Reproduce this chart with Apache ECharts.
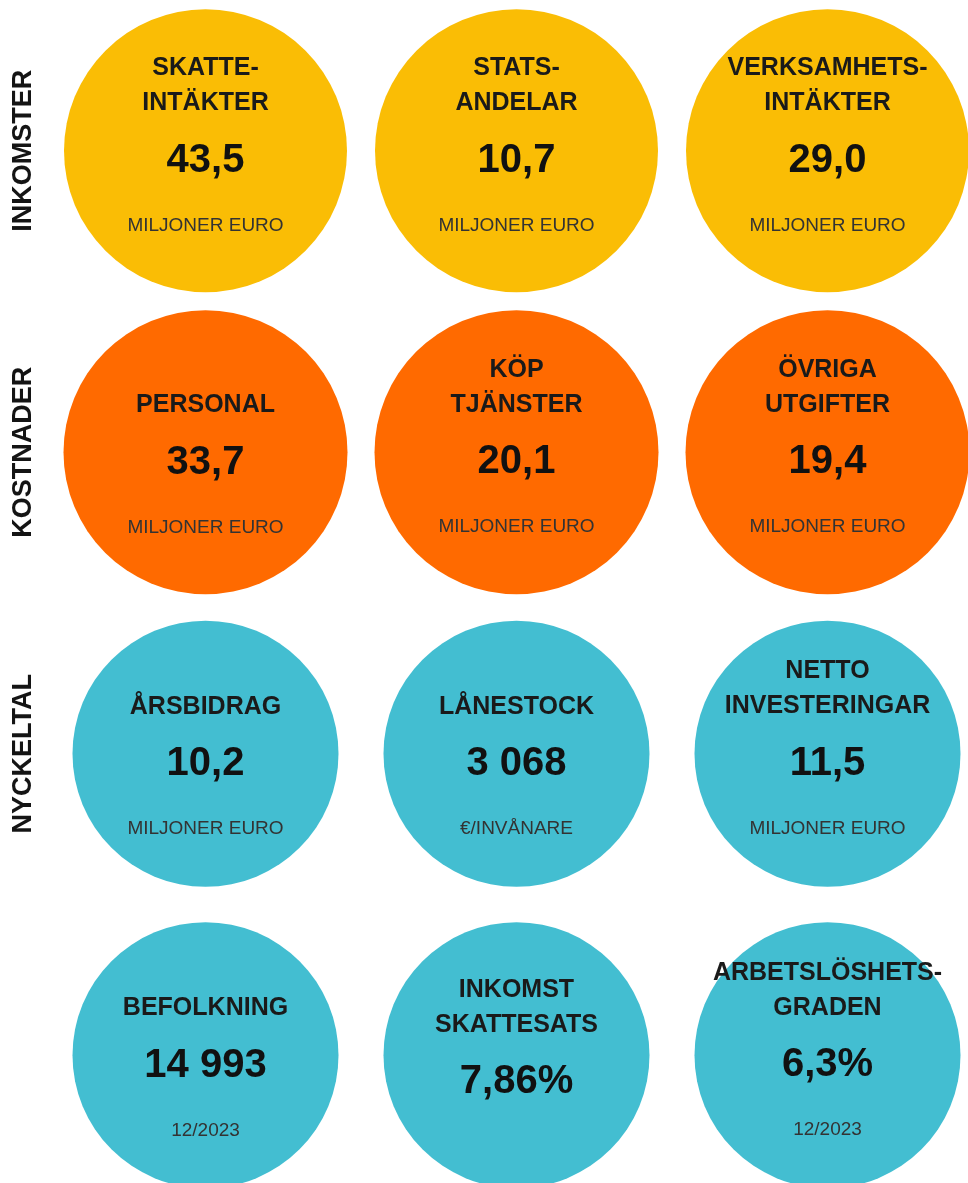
<!DOCTYPE html>
<html>
<head>
<meta charset="utf-8">
<script src="https://cdn.jsdelivr.net/npm/echarts@6/dist/echarts.min.js"></script>
<style>
	html, body { margin: 0; padding: 0; background: #fff; }
	#main { width: 968px; height: 1183px; }
</style>
</head>
<body>
<div id="main"></div>
<script>
// nyckeltal, fyra rader med tre cirklar
var rowLabels = ['INKOMSTER', 'KOSTNADER', 'NYCKELTAL', ''];
var colKeys = ['c1', 'c2', 'c3'];
var groups = ['INKOMSTER', 'KOSTNADER', 'NYCKELTAL'];
var titles = [
	'SKATTE-\nINTÄKTER', 'STATS-\nANDELAR', 'VERKSAMHETS-\nINTÄKTER',
	'PERSONAL', 'KÖP\nTJÄNSTER', 'ÖVRIGA\nUTGIFTER',
	'ÅRSBIDRAG', 'LÅNESTOCK', 'NETTO\nINVESTERINGAR',
	'BEFOLKNING', 'INKOMST\nSKATTESATS', 'ARBETSLÖSHETS-\nGRADEN'
];
var values = [43.5, 10.7, 29.0, 33.7, 20.1, 19.4, 10.2, 3068, 11.5, 14993, 7.86, 6.3];
var decimals = [1, 1, 1, 1, 1, 1, 1, 0, 1, 0, 2, 1];
var suffixes = ['', '', '', '', '', '', '', '', '', '', '%', '%'];
var units = [
	'MILJONER EURO', 'MILJONER EURO', 'MILJONER EURO',
	'MILJONER EURO', 'MILJONER EURO', 'MILJONER EURO',
	'MILJONER EURO', '€/INVÅNARE', 'MILJONER EURO',
	'12/2023', '', '12/2023'
];
var groupOf = [0, 0, 0, 1, 1, 1, 2, 2, 2, 2, 2, 2];

var colors = ['#FABD05', '#FF6A00', '#43BED1'];
var sizes = [283, 284, 266];

function fmt(v, d, s) {
	var parts = v.toFixed(d).split('.');
	parts[0] = parts[0].replace(/\B(?=(\d{3})+(?!\d))/g, ' ');
	return parts.join(',') + s;
}

function labelText(i) {
	var lines = titles[i].split('\n').map(function (t) { return '{t|' + t + '}'; });
	lines.push('{v|' + fmt(values[i], decimals[i], suffixes[i]) + '}');
	if (units[i] != '') {
		lines.push('{u|' + units[i] + '}');
	}
	return lines.join('\n');
}

var series = groups.map(function (g, gi) {
	var data = [];
	titles.forEach(function (t, i) {
		if (groupOf[i] != gi) return;
		var item = { value: [i % 3, Math.floor(i / 3)], idx: i };
		var shift = 0;
		if (t.indexOf('\n') < 0) shift = 18;
		if (units[i] == '') shift = -8;
		item.label = { offset: [0, shift] };
		data.push(item);
	});
	return {
		name: g,
		type: 'scatter',
		symbol: 'circle',
		symbolSize: sizes[gi],
		itemStyle: { color: colors[gi], opacity: 1 },
		emphasis: { disabled: true },
		label: {
			show: true,
			position: 'inside',
			align: 'center',
			formatter: function (p) { return labelText(p.data.idx); },
			rich: {
				t: { fontFamily: 'Liberation Sans', fontSize: 25, fontWeight: 'bold', color: '#1a1a1a', lineHeight: 35, align: 'center' },
				v: { fontFamily: 'Liberation Sans', fontSize: 40, fontWeight: 'bold', color: '#111111', lineHeight: 80, align: 'center' },
				u: { fontFamily: 'Liberation Sans', fontSize: 19, color: '#333333', lineHeight: 50, align: 'center' }
			}
		},
		data: data
	};
});

var chart = echarts.init(document.getElementById('main'), null, { renderer: 'canvas' });
var option = {
	backgroundColor: '#ffffff',
	animation: false,
	tooltip: { show: false },
	grid: { left: 50, top: 0, width: 933, height: 1206, outerBoundsMode: 'none', containLabel: false },
	xAxis: {
		type: 'category',
		data: colKeys,
		axisLine: { show: false },
		axisTick: { show: false },
		axisLabel: { show: false },
		splitLine: { show: false }
	},
	yAxis: {
		type: 'category',
		inverse: true,
		data: rowLabels,
		axisLine: { show: false },
		axisTick: { show: false },
		splitLine: { show: false },
		axisLabel: {
			rotate: 90,
			margin: 26,
			align: 'center',
			verticalAlign: 'middle',
			fontFamily: 'Liberation Sans',
			fontSize: 27,
			fontWeight: 'bold',
			color: '#141414'
		}
	},
	series: series
};
chart.setOption(option, true);
</script>
</body>
</html>
